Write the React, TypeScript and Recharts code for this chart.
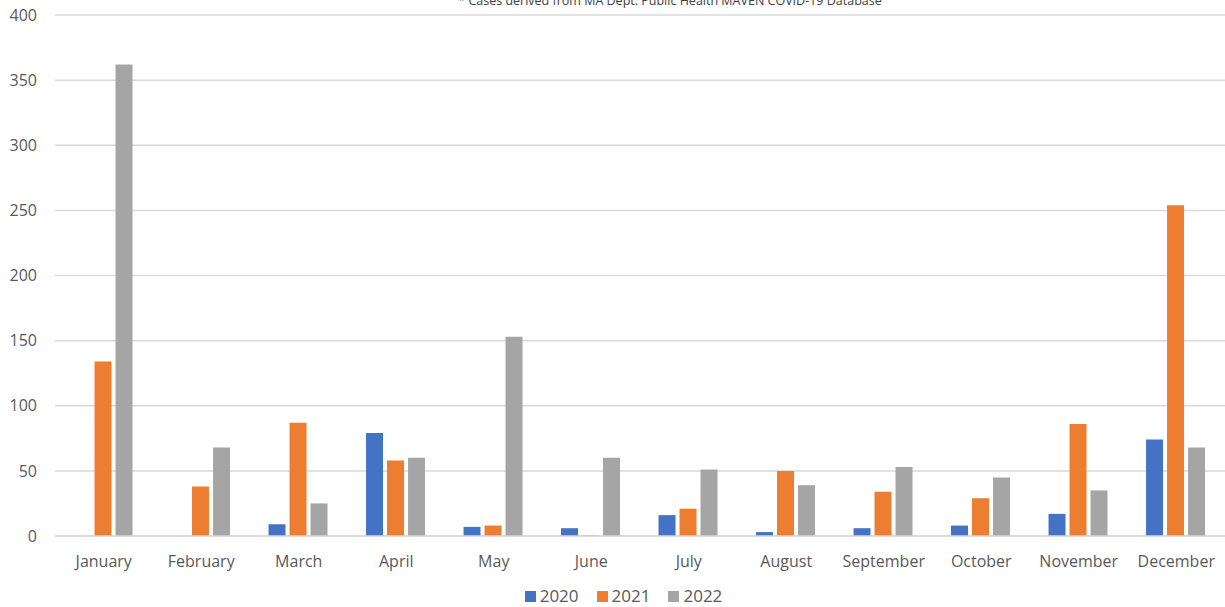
import React from "react";
import { BarChart, Bar, XAxis, YAxis, CartesianGrid, Legend } from "recharts";

const months = ["January","February","March","April","May","June","July","August","September","October","November","December"];
const cases2020 = [0, 0, 9, 79, 7, 6, 16, 3, 6, 8, 17, 74];
const cases2021 = [134, 38, 87, 58, 8, 0.5, 21, 50, 34, 29, 86, 254];
const cases2022 = [362, 68, 25, 60, 153, 60, 51, 39, 53, 45, 35, 68];
const yTicks = [0, 50, 100, 150, 200, 250, 300, 350, 400];
const seriesNames = ["2020", "2021", "2022"];
const seriesColors = ["#4472C4", "#ED7D31", "#A5A5A5"];
const note = "* Cases derived from MA Dept. Public Health MAVEN COVID-19 Database";

const data = months.map((m, i) => ({ month: m, y2020: cases2020[i], y2021: cases2021[i], y2022: cases2022[i] }));

const font = "'Open Sans', sans-serif";
const textColor = "#595959";

const LegendContent = () => (
  <div style={{ display: "flex", justifyContent: "center", paddingTop: 10, paddingLeft: 22, fontFamily: font, fontSize: 17, color: textColor, lineHeight: "20px" }}>
    {seriesNames.map((n, i) => (
      <div key={n} style={{ display: "flex", alignItems: "center", marginRight: i < 2 ? 18 : 0 }}>
        <span style={{ display: "inline-block", width: 11, height: 11, background: seriesColors[i], marginRight: 4 }} />
        <span>{n}</span>
      </div>
    ))}
  </div>
);

export default function App() {
  return (
    <div style={{ position: "absolute", left: 0, top: 0, width: 1225, height: 607, overflow: "hidden", background: "#fff", fontFamily: font }}>
      <div style={{ position: "absolute", top: -8, left: 0, width: 1340, textAlign: "center", fontSize: 12.5, color: "#404040", whiteSpace: "nowrap" }}>{note}</div>
      <BarChart width={1225} height={607} data={data} margin={{ top: 15, right: 0, bottom: 0, left: 0 }} barCategoryGap="19%" barGap={4}>
        <CartesianGrid vertical={false} stroke="#d9d9d9" strokeWidth={1.5} />
        <XAxis dataKey="month" axisLine={{ stroke: "#d9d9d9", strokeWidth: 1.5 }} tickLine={false} height={40} tickMargin={14} interval={0} tick={{ fill: textColor, fontSize: 16, fontFamily: font }} />
        <YAxis domain={[0, 400]} ticks={yTicks} width={55} axisLine={false} tickLine={false} tickMargin={12} tick={{ fill: textColor, fontSize: 16, fontFamily: font }} />
        <Legend verticalAlign="bottom" height={31} content={LegendContent} />
        <Bar dataKey="y2020" name="2020" fill={seriesColors[0]} isAnimationActive={false} />
        <Bar dataKey="y2021" name="2021" fill={seriesColors[1]} isAnimationActive={false} />
        <Bar dataKey="y2022" name="2022" fill={seriesColors[2]} isAnimationActive={false} />
      </BarChart>
    </div>
  );
}
